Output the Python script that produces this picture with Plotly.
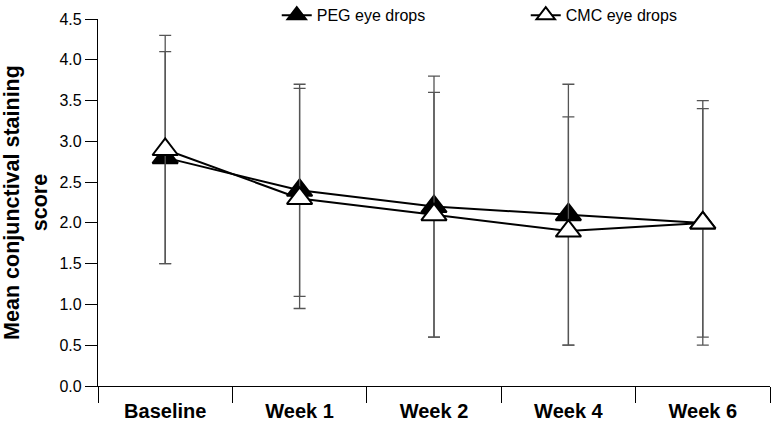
import plotly.graph_objects as go

categories = ["Baseline", "Week 1", "Week 2", "Week 4", "Week 6"]
peg_mean = [2.8, 2.4, 2.2, 2.1, 2.0]
peg_err = [1.3, 1.3, 1.6, 1.6, 1.5]
cmc_mean = [2.9, 2.3, 2.1, 1.9, 2.0]
cmc_err = [1.4, 1.35, 1.5, 1.4, 1.4]
y_ticks = [0.0, 0.5, 1.0, 1.5, 2.0, 2.5, 3.0, 3.5, 4.0, 4.5]

FONT = "Liberation Sans, Arial, sans-serif"
ERR_COLOR = "#555555"

fig = go.Figure()
fig.add_trace(go.Scatter(
    x=categories, y=peg_mean, name="PEG eye drops", mode="lines+markers",
    line=dict(color="black", width=2),
    marker=dict(symbol="triangle-up", size=22, color="black",
                line=dict(color="black", width=2)),
    error_y=dict(type="data", array=peg_err, visible=True,
                 color=ERR_COLOR, thickness=1.3, width=6),
))
fig.add_trace(go.Scatter(
    x=categories, y=cmc_mean, name="CMC eye drops", mode="lines+markers",
    line=dict(color="black", width=2),
    marker=dict(symbol="triangle-up", size=22, color="white",
                line=dict(color="black", width=2)),
    error_y=dict(type="data", array=cmc_err, visible=True,
                 color=ERR_COLOR, thickness=1.3, width=6),
))

fig.update_layout(
    width=771, height=422,
    margin=dict(l=98, r=1, t=19, b=36, autoexpand=False),
    paper_bgcolor="white", plot_bgcolor="white",
    font=dict(family=FONT, color="black"),
    showlegend=True,
    legend=dict(orientation="h", x=0.266, xanchor="left", y=1.01,
                yanchor="middle", font=dict(size=16, family=FONT),
                entrywidth=204, bgcolor="rgba(0,0,0,0)"),
)
fig.update_xaxes(
    type="category", range=[-0.5, 4.5], tickson="boundaries",
    showline=True, linecolor="black", linewidth=1.3,
    ticks="outside", ticklen=16, tickcolor="black", tickwidth=1.3,
    showgrid=False, zeroline=False, automargin=False,
    ticklabelstandoff=7,
    tickfont=dict(size=20, family=FONT, weight="bold"),
)
fig.update_yaxes(
    range=[0, 4.5], tickvals=y_ticks,
    ticktext=[f"{v:.1f}" for v in y_ticks],
    showline=True, linecolor="black", linewidth=1.3,
    ticks="outside", ticklen=12, tickcolor="black", tickwidth=1.3,
    showgrid=False, zeroline=False, automargin=False,
    tickfont=dict(size=16, family=FONT),
    title=dict(text="Mean conjunctival staining<br>score",
               font=dict(size=21.5, family=FONT, weight="bold"), standoff=8),
)

fig.write_html("out.html", config={"displayModeBar": False},
               post_script="document.body.style.margin='0';")
